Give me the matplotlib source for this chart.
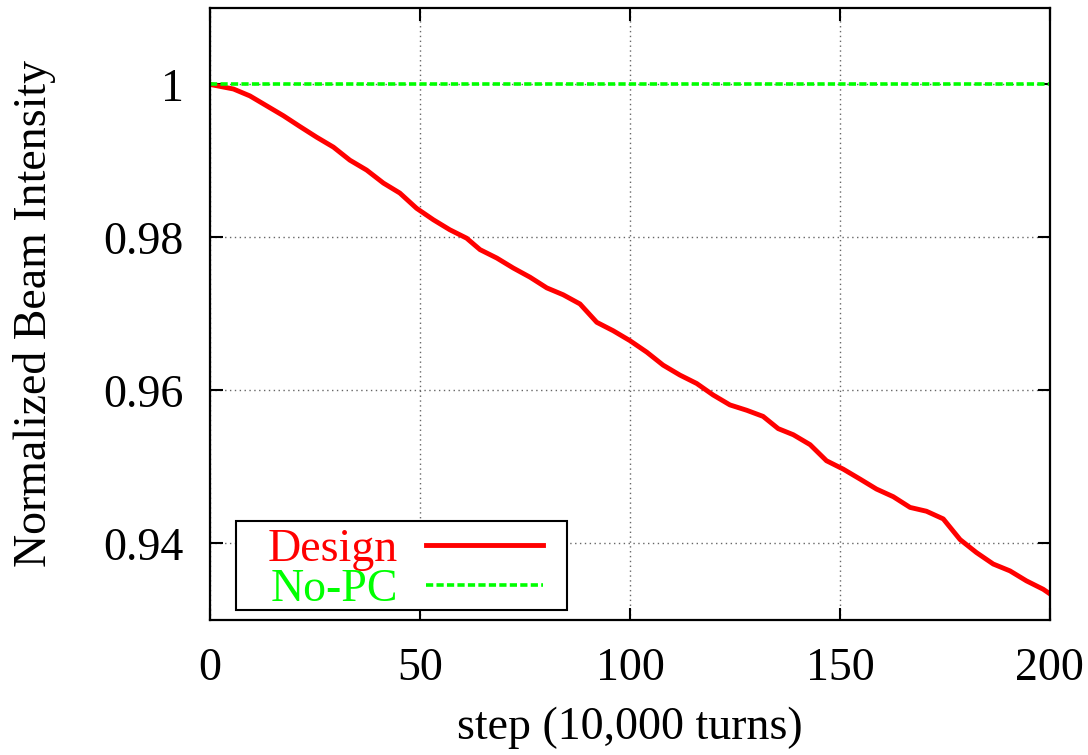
import matplotlib
matplotlib.use("Agg")
import matplotlib.pyplot as plt
from matplotlib.patches import Rectangle

# values
steps = [0, 5.6, 9.5, 13.5, 17.5, 21.4, 25.4, 29.4, 33.3, 37.3, 41.3, 45.2, 49.2,
         53.2, 57.1, 61.1, 64.3, 68.3, 72.2, 76.2, 80.2, 84.1, 88.1, 92.1, 96,
         100, 104, 107.9, 111.9, 115.9, 119.8, 123.8, 127.8, 131.7, 135.3, 138.9,
         142.9, 146.8, 150.8, 154.8, 158.7, 162.7, 166.7, 170.6, 174.6, 178.6,
         182.5, 186.5, 190.5, 194.4, 198.4, 200]
design = [1.0, 0.9994, 0.9985, 0.9972, 0.9959, 0.9945, 0.9931, 0.9918, 0.9901,
          0.9888, 0.9871, 0.9858, 0.9838, 0.9823, 0.9810, 0.9799, 0.9784, 0.9773,
          0.9760, 0.9748, 0.9734, 0.9725, 0.9713, 0.9689, 0.9678, 0.9665, 0.9650,
          0.9633, 0.9620, 0.9609, 0.9594, 0.9581, 0.9574, 0.9566, 0.9550, 0.9542,
          0.9529, 0.9508, 0.9497, 0.9484, 0.9471, 0.9461, 0.9447, 0.9442, 0.9432,
          0.9405, 0.9388, 0.9373, 0.9364, 0.9351, 0.9340, 0.9334]
no_pc_x = [0, 200]
no_pc = [1.0, 1.0]

x_ticks = [0, 50, 100, 150, 200]
y_ticks = [0.94, 0.96, 0.98, 1.0]
y_tick_labels = ["0.94", "0.96", "0.98", "1"]

plt.rcParams["font.family"] = ["Liberation Serif", "DejaVu Serif"]

fig = plt.figure(figsize=(10.88, 7.55), dpi=100)
ax = fig.add_axes([0.193, 0.179, 0.772, 0.8105])

ax.plot(steps, design, color="#ff0000", lw=3.5, label="Design")
ax.plot(no_pc_x, no_pc, color="#00ff00", lw=2.6, linestyle=(0, (2.0, 0.9)), label="No-PC")

ax.set_xlim(0, 200)
ax.set_ylim(0.93, 1.01)
ax.set_xticks(x_ticks)
ax.set_xticklabels([str(t) for t in x_ticks])
ax.set_yticks(y_ticks)
ax.set_yticklabels(y_tick_labels)

ax.grid(True, color="#666666", linestyle=(0, (1, 2.5)), lw=1.0)
ax.tick_params(direction="in", length=9, width=1.5, top=True, right=True,
               labelsize=33, pad=19)
ax.tick_params(axis="x", pad=20)
for s in ax.spines.values():
    s.set_linewidth(1.6)

ax.set_xlabel("step (10,000 turns)", fontsize=33, labelpad=12)
ax.set_ylabel("Normalized Beam Intensity", fontsize=33, labelpad=34)

# gnuplot-style key: text first, sample after, drawn in a plain box
leg = ax.legend(loc="center left", bbox_to_anchor=(0.069, 0.082), fontsize=33,
                markerfirst=False, frameon=False,
                handlelength=2.55, handletextpad=0.6, borderpad=0,
                labelspacing=-0.05, borderaxespad=0)
for txt, c in zip(leg.get_texts(), ["#ff0000", "#00ff00"]):
    txt.set_color(c)
ax.add_patch(Rectangle((0.031, 0.0163), 0.394, 0.1455, transform=ax.transAxes,
                       facecolor="white", edgecolor="black", lw=1.5, zorder=4))
leg.set_zorder(5)

fig.savefig("out.png", dpi=100)
